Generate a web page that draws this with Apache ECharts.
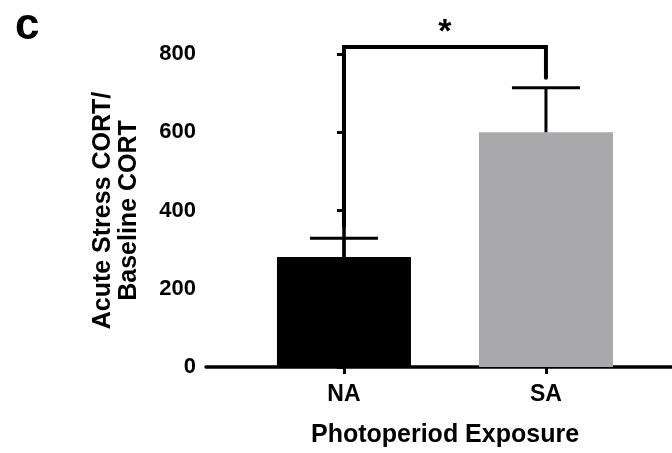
<!DOCTYPE html>
<html>
<head>
<meta charset="utf-8">
<script src="https://cdn.jsdelivr.net/npm/echarts@6/dist/echarts.min.js"></script>
<style>
html,body{margin:0;padding:0;background:#fff;}
#chart{width:672px;height:453px;}
</style>
</head>
<body>
<div id="chart"></div>
<script>
// ---- data ----
const categories = ['NA', 'SA'];
const means = [281, 600];
const upperErr = [329, 714];
const barColors = ['#000000', '#a9a9ab'];
const yTicks = [0, 200, 400, 600, 800];
// significance bracket: [leftX, rightX, leftEnd, rightEnd, top]
const bracket = [0, 1, 360, 739, 818];
const sigLabel = '*';

const FONT = 'Liberation Sans, Arial, Helvetica, sans-serif';
const chart = echarts.init(document.getElementById('chart'), null, {renderer: 'canvas'});

const catIdx = categories.map((c, i) => i);

const option = {
  animation: false,
  backgroundColor: '#ffffff',
  title: {
    text: 'c', left: 10, top: 0,
    textStyle: {fontFamily: FONT, fontWeight: 'bold', fontSize: 44, color: '#000'}
  },
  grid: {left: 206, right: 0, top: 54, bottom: 83, containLabel: false},
  xAxis: {
    type: 'value',
    min: -0.683, max: 1.624,
    name: 'Photoperiod Exposure',
    nameLocation: 'middle',
    nameGap: 56,
    nameTextStyle: {fontFamily: FONT, fontWeight: 'bold', fontSize: 25, color: '#000', padding: [0, 0, 0, 12]},
    axisLine: {show: true, onZero: false, lineStyle: {color: '#000', width: 3.5}},
    axisTick: {show: true, length: 7, customValues: catIdx, lineStyle: {color: '#000', width: 3}},
    axisLabel: {
      customValues: catIdx, margin: 16,
      formatter: v => categories[Math.round(v)] || '',
      fontFamily: FONT, fontWeight: 'bold', fontSize: 23, color: '#000'
    },
    splitLine: {show: false}
  },
  yAxis: {
    type: 'value', min: 0, max: 800, interval: 200,
    name: 'Acute Stress CORT/\nBaseline CORT',
    nameLocation: 'middle',
    nameGap: 64,
    nameTextStyle: {fontFamily: FONT, fontWeight: 'bold', fontSize: 25, lineHeight: 26, color: '#000'},
    axisLine: {show: true, lineStyle: {color: '#000', width: 3.5}},
    axisTick: {show: true, length: 7, lineStyle: {color: '#000', width: 3}},
    axisLabel: {
      margin: 10,
      formatter: v => (yTicks.indexOf(v) >= 0 ? String(v) : ''),
      fontFamily: FONT, fontWeight: 'bold', fontSize: 22, color: '#000'
    },
    splitLine: {show: false}
  },
  series: [
    {
      type: 'bar',
      barWidth: 134,
      data: means.map((m, i) => ({value: [catIdx[i], m], itemStyle: {color: barColors[i]}})),
      z: 2
    },
    {
      type: 'custom',
      z: 3,
      data: means.map((m, i) => [catIdx[i], m, upperErr[i]]),
      renderItem: function (params, api) {
        const base = api.coord([api.value(0), api.value(1)]);
        const top = api.coord([api.value(0), api.value(2)]);
        const half = 34;
        const style = {stroke: '#000', lineWidth: 3};
        return {
          type: 'group',
          children: [
            {type: 'line', shape: {x1: base[0], y1: base[1], x2: top[0], y2: top[1]}, style: style},
            {type: 'line', shape: {x1: top[0] - half, y1: top[1], x2: top[0] + half, y2: top[1]}, style: style}
          ]
        };
      }
    },
    {
      type: 'custom',
      z: 4,
      clip: false,
      data: [bracket],
      renderItem: function (params, api) {
        const pL = api.coord([api.value(0), api.value(2)]);
        const pLT = api.coord([api.value(0), api.value(4)]);
        const pRT = api.coord([api.value(1), api.value(4)]);
        const pR = api.coord([api.value(1), api.value(3)]);
        return {
          type: 'group',
          children: [
            {type: 'polyline', shape: {points: [pL, pLT, pRT, pR]}, style: {stroke: '#000', lineWidth: 4, fill: null, lineJoin: 'miter', lineCap: 'round'}},
            {type: 'text', x: (pLT[0] + pRT[0]) / 2, y: pLT[1] + 3,
              style: {text: sigLabel, fontFamily: FONT, fontWeight: 'bold', fontSize: 34, fill: '#000', align: 'center', verticalAlign: 'bottom'}}
          ]
        };
      }
    }
  ]
};
chart.setOption(option);
</script>
</body>
</html>
